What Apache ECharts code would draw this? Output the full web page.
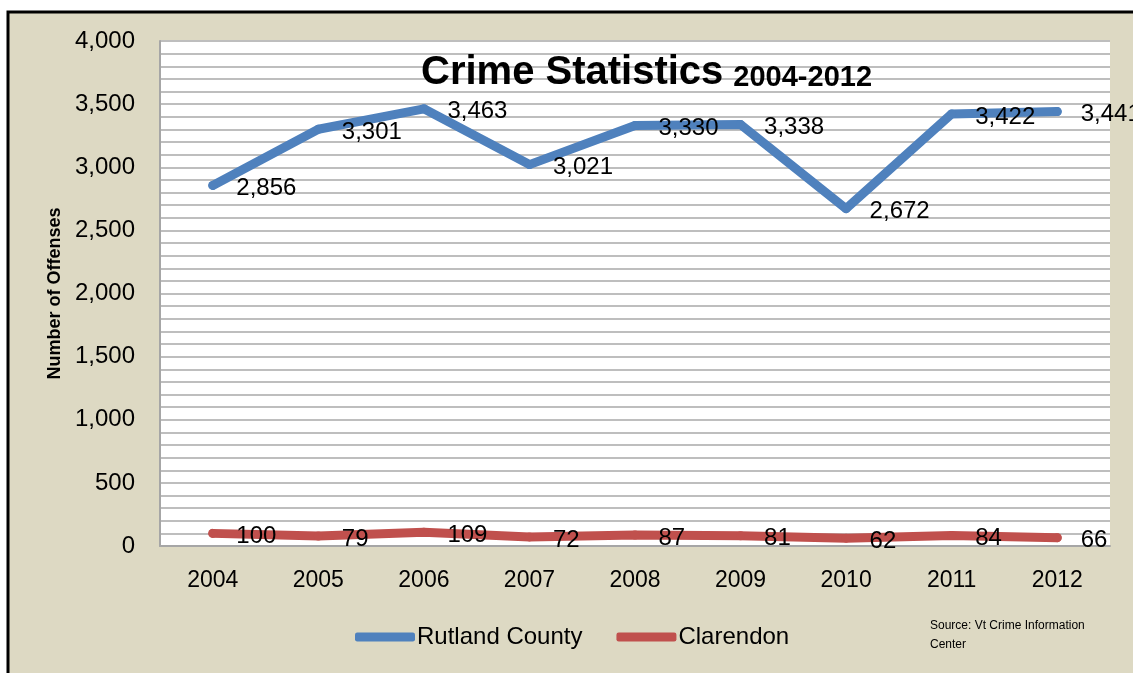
<!DOCTYPE html>
<html>
<head>
<meta charset="utf-8">
<script src="https://cdn.jsdelivr.net/npm/echarts@6/dist/echarts.min.js"></script>
<style>
  html, body { margin: 0; padding: 0; background: #fff; }
  #main { width: 1133px; height: 673px; }
</style>
</head>
<body>
<div id="main"></div>
<script>
var years = ['2004', '2005', '2006', '2007', '2008', '2009', '2010', '2011', '2012']
var rutland = [2856, 3301, 3463, 3021, 3330, 3338, 2672, 3422, 3441]
var clarendon = [100, 79, 109, 72, 87, 81, 62, 84, 66]

var font = 'Liberation Sans'
var fmt = function (v) { return Number(v).toLocaleString('en-US') }

var myChart = echarts.init(document.getElementById('main'))

var labelStyle = {
  show: true,
  position: 'right',
  distance: 19,
  offset: [0, 3],
  color: '#000',
  fontFamily: font,
  fontSize: 24,
  formatter: function (p) { return fmt(p.value) }
}

var option = {
  backgroundColor: 'transparent',
  animation: false,
  graphic: [
    {
      type: 'rect',
      z: -10,
      shape: { x: 8, y: 12, width: 1200, height: 720 },
      style: { fill: '#DDD9C3', stroke: '#000', lineWidth: 3 }
    },
    {
      type: 'text',
      left: 930,
      top: 616,
      style: {
        text: 'Source: Vt Crime Information\nCenter',
        fill: '#000',
        font: '12px "Liberation Sans"',
        lineHeight: 19
      }
    }
  ],
  title: {
    text: '{a|Crime Statistics} {b|2004-2012}',
    left: 416,
    top: 48,
    textStyle: {
      rich: {
        a: { fontFamily: font, fontWeight: 'bold', fontSize: 40, color: '#000' },
        b: { fontFamily: font, fontWeight: 'bold', fontSize: 29, color: '#000', padding: [10, 0, 0, 5] }
      }
    }
  },
  legend: {
    bottom: 19,
    left: 350,
    icon: 'roundRect',
    itemWidth: 60,
    itemHeight: 9,
    itemGap: 34,
    textStyle: { fontFamily: font, fontSize: 24, color: '#000', padding: [0, 0, 0, -3] },
    data: ['Rutland County', 'Clarendon']
  },
  grid: {
    left: 160,
    top: 41,
    right: 23,
    bottom: 127,
    show: true,
    backgroundColor: '#fff',
    borderWidth: 0
  },
  xAxis: {
    type: 'category',
    data: years,
    boundaryGap: true,
    axisLine: { lineStyle: { color: '#A6A6A6', width: 2 } },
    axisTick: { show: false },
    axisLabel: { color: '#000', fontFamily: font, fontSize: 23, margin: 23 }
  },
  yAxis: {
    type: 'value',
    min: 0,
    max: 4000,
    interval: 500,
    name: 'Number of Offenses',
    nameLocation: 'middle',
    nameGap: 94,
    nameTextStyle: { fontFamily: font, fontWeight: 'bold', fontSize: 18, color: '#000' },
    axisLine: { show: true, lineStyle: { color: '#A6A6A6', width: 2 } },
    axisTick: { show: false },
    minorTick: { show: false, splitNumber: 5 },
    axisLabel: { color: '#000', fontFamily: font, fontSize: 24, margin: 25, formatter: fmt },
    splitLine: { lineStyle: { color: '#BEBEBE', width: 2 } },
    minorSplitLine: { show: true, lineStyle: { color: '#BEBEBE', width: 2 } }
  },
  series: [
    {
      name: 'Rutland County',
      type: 'line',
      data: rutland,
      symbol: 'circle',
      symbolSize: 9,
      color: '#4F81BD',
      lineStyle: { width: 9, cap: 'round', join: 'round' },
      label: labelStyle
    },
    {
      name: 'Clarendon',
      type: 'line',
      data: clarendon,
      symbol: 'circle',
      symbolSize: 9,
      color: '#C0504D',
      lineStyle: { width: 9, cap: 'round', join: 'round' },
      label: labelStyle
    }
  ]
}

myChart.setOption(option)
</script>
</body>
</html>
